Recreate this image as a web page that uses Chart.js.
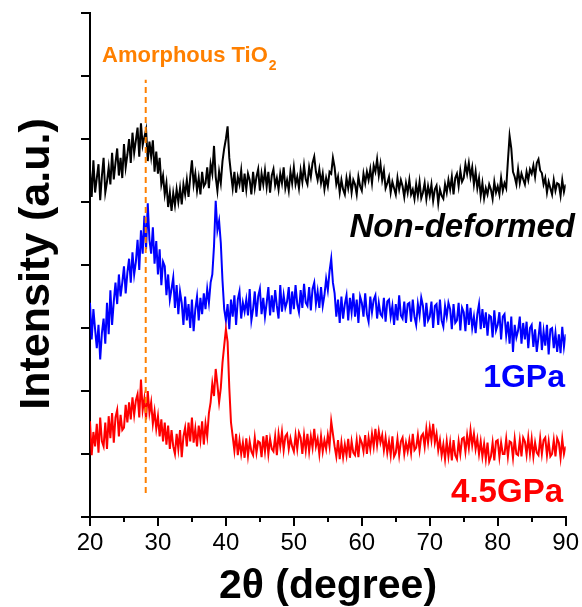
<!DOCTYPE html>
<html>
<head>
<meta charset="utf-8">
<script src="https://cdn.jsdelivr.net/npm/chart.js@4"></script>
<style>
  html, body { margin: 0; padding: 0; background: #fff; }
  #chart { display: block; }
</style>
</head>
<body>
<canvas id="chart" width="582" height="607"></canvas>
<script>
// scan grid: 20..90 deg, 0.25 deg per point
const startAngle = 20;
const stepAngle = 0.25;
const xTicks = [20, 30, 40, 50, 60, 70, 80, 90];
const xMinorTicks = [25, 35, 45, 55, 65, 75, 85];

// intensity (a.u., offset per pattern)
const nonDeformed = [
  552, 508, 566, 515,
  538, 560, 503, 541,
  570, 515, 532, 555,
  528, 578, 536, 562,
  585, 542, 570, 538,
  592, 555, 575, 600,
  562, 610, 578, 598,
  618, 572, 625, 590,
  603, 615, 565, 596,
  572, 598, 548, 580,
  545, 570, 528, 542,
  512, 530, 492, 515,
  486, 514, 495, 520,
  500, 522, 496, 528,
  512, 535, 508, 540,
  566, 528, 545, 518,
  538, 512, 548, 525,
  530, 555, 522, 560,
  545, 589, 540, 518,
  548, 530, 565, 585,
  600, 620, 570, 545,
  522, 548, 515, 540,
  528, 550, 516, 545,
  520, 545, 535, 512,
  548, 522, 540, 552,
  518, 545, 528, 550,
  524, 548, 515, 542,
  552, 526, 538, 520,
  545, 530, 555, 522,
  535, 518, 548, 530,
  555, 528, 540, 522,
  550, 532, 558, 536,
  528, 555, 540, 562,
  572, 548, 535, 552,
  530, 545, 520, 538,
  525, 548, 545, 570,
  555, 528, 540, 515,
  535, 520, 512, 538,
  522, 540, 515, 535,
  528, 512, 540, 525,
  518, 545, 530, 548,
  535, 552, 530, 558,
  548, 568, 542, 560,
  535, 550, 522, 530,
  540, 515, 532, 522,
  512, 538, 520, 535,
  525, 508, 530, 515,
  535, 512, 520, 505,
  528, 510, 532, 506,
  515, 530, 505, 525,
  510, 528, 502, 520,
  526, 498, 520, 510,
  505, 528, 515, 535,
  520, 540, 512, 538,
  545, 525, 550, 532,
  538, 560, 545, 562,
  540, 555, 528, 548,
  522, 538, 510, 530,
  506, 522, 512, 528,
  520, 505, 532, 515,
  525, 512, 538, 518,
  530, 522, 565, 605,
  585, 548, 540, 528,
  552, 530, 545, 536,
  528, 548, 535, 552,
  545, 558, 540, 562,
  568, 550, 546, 528,
  538, 515, 532, 522,
  512, 535, 518, 530,
  528, 510, 535, 516,
  528
];

const gpa1 = [
  340, 282, 330, 298,
  268, 305, 250, 292,
  315, 275, 340, 290,
  360, 305, 342, 372,
  338, 385, 350, 372,
  398, 355, 388, 410,
  372, 420, 385, 405,
  440, 392, 455, 418,
  478, 425, 498, 440,
  418, 460, 402, 438,
  385, 425, 368, 405,
  398, 352, 385, 345,
  362, 380, 332, 368,
  322, 358, 340, 305,
  350, 312, 338, 300,
  345, 295, 330, 350,
  312, 348, 322, 355,
  330, 362, 340, 372,
  385, 430, 502, 455,
  470, 435, 375, 330,
  312, 338, 298, 345,
  318, 352, 305, 345,
  358, 315, 340, 326,
  345, 320, 362, 312,
  330, 358, 318, 350,
  362, 322, 348, 318,
  340, 365, 320, 352,
  325, 360, 335, 315,
  368, 326, 352, 332,
  342, 365, 322, 358,
  330, 368, 338, 325,
  360, 332, 370, 340,
  335, 365, 328, 362,
  372, 338, 358, 332,
  365, 335, 352, 378,
  360, 390, 410, 372,
  355, 318, 345, 308,
  350, 315, 338, 352,
  312, 348, 325, 355,
  318, 345, 308, 350,
  340, 318, 355, 322,
  310, 350, 325, 345,
  352, 315, 340, 322,
  318, 348, 310, 342,
  345, 318, 335, 305,
  338, 312, 352, 320,
  315, 342, 308, 338,
  340, 310, 345, 318,
  305, 338, 320, 348,
  335, 302, 340, 312,
  318, 342, 300, 335,
  338, 305, 345, 312,
  302, 335, 318, 340,
  330, 298, 338, 308,
  312, 340, 296, 332,
  325, 295, 338, 305,
  332, 300, 318, 292,
  322, 338, 298, 330,
  300, 325, 288, 320,
  318, 285, 328, 296,
  305, 325, 282, 318,
  322, 288, 310, 275,
  318, 262, 305, 285,
  296, 318, 275, 308,
  282, 310, 268, 300,
  305, 270, 298, 262,
  285, 310, 265, 295,
  272, 305, 258, 298,
  300, 268, 292, 262,
  290, 260, 302, 270,
  290
];

const gpa45 = [
  152, 98, 135, 112,
  148, 102, 158, 120,
  112, 150, 108, 160,
  125, 165, 118, 158,
  170, 128, 162, 138,
  142, 178, 150, 182,
  155, 190, 162, 185,
  195, 158, 218, 170,
  188, 155, 200, 165,
  182, 148, 168, 140,
  160, 128, 155, 120,
  150, 115, 145, 108,
  138, 112, 100, 132,
  108, 138, 95, 128,
  142, 112, 150, 120,
  158, 118, 140, 112,
  145, 122, 152, 115,
  148, 128, 165, 182,
  212, 192, 235, 210,
  182, 205, 245, 272,
  298, 278, 205, 150,
  128, 105, 132, 98,
  122, 100, 118, 94,
  125, 97, 120, 104,
  98, 126, 102, 120,
  118, 95, 128, 104,
  130, 100, 124, 108,
  104, 128, 98, 132,
  112, 135, 106, 128,
  132, 108, 125, 112,
  104, 130, 108, 134,
  126, 100, 130, 106,
  132, 104, 128, 110,
  140, 112, 124, 100,
  128, 104, 122, 108,
  130, 112, 152, 132,
  112, 96, 122, 92,
  118, 95, 115, 98,
  124, 94, 120, 102,
  98, 122, 95, 125,
  118, 104, 130, 100,
  126, 108, 132, 112,
  140, 114, 136, 118,
  130, 106, 126, 102,
  120, 98, 128, 96,
  102, 124, 98, 120,
  126, 100, 118, 104,
  122, 102, 132, 106,
  110, 130, 106, 128,
  132, 112, 140, 118,
  142, 122, 148, 118,
  132, 106, 122, 98,
  115, 92, 120, 96,
  118, 90, 122, 98,
  92, 120, 100, 124,
  126, 104, 130, 110,
  138, 114, 132, 108,
  124, 100, 120, 96,
  116, 92, 118, 88,
  96, 118, 90, 120,
  122, 95, 118, 100,
  100, 124, 96, 120,
  118, 94, 124, 100,
  98, 122, 96, 126,
  120, 99, 126, 100,
  124, 96, 118, 102,
  98, 125, 100, 122,
  126, 98, 120, 96,
  100, 122, 96, 125,
  118, 94, 124, 100,
  112
];

// amorphous TiO2 marker line
const amorphousX = [28.2, 28.2];
const amorphousY = [38, 694];

function toPoints(values) {
  return values.map((v, i) => ({ x: startAngle + i * stepAngle, y: v }));
}

const FONT = '"Liberation Sans", Arial, sans-serif';

const textPlugin = {
  id: 'textPlugin',
  afterDraw(chart) {
    const c = chart.ctx;
    const xs = chart.scales.x;
    const bottom = chart.chartArea.bottom;

    // minor x ticks
    c.save();
    c.strokeStyle = '#000';
    c.lineWidth = 2;
    xMinorTicks.forEach(v => {
      const px = Math.round(xs.getPixelForValue(v));
      c.beginPath();
      c.moveTo(px, bottom);
      c.lineTo(px, bottom + 5);
      c.stroke();
    });
    c.restore();

    c.save();
    c.fillStyle = '#000';
    // y title
    c.save();
    c.translate(49, 264);
    c.rotate(-Math.PI / 2);
    c.font = 'bold 43px ' + FONT;
    c.textAlign = 'center';
    c.textBaseline = 'alphabetic';
    c.fillText('Intensity (a.u.)', 0, 0);
    c.restore();

    // x title
    c.font = 'bold 41px ' + FONT;
    c.textAlign = 'center';
    c.textBaseline = 'alphabetic';
    c.fillText('2θ (degree)', 328, 598);

    // series labels
    c.textAlign = 'right';
    c.font = 'italic bold 33px ' + FONT;
    c.fillText('Non-deformed', 575, 237);
    c.fillStyle = '#0000ff';
    c.font = 'bold 32px ' + FONT;
    c.fillText('1GPa', 565, 387);
    c.fillStyle = '#ff0000';
    c.font = 'bold 33px ' + FONT;
    c.fillText('4.5GPa', 563, 502);

    // marker label
    c.fillStyle = '#ff8000';
    c.textAlign = 'left';
    c.font = 'bold 22px ' + FONT;
    const t = 'Amorphous TiO';
    c.fillText(t, 102, 62);
    const w = c.measureText(t).width;
    c.font = 'bold 14px ' + FONT;
    c.fillText('2', 102 + w + 1, 70);
    c.restore();
  }
};

document.addEventListener('DOMContentLoaded', function(){

    const ctx = document.getElementById('chart');

    new Chart(ctx, {
        type: 'line',
        data: {
            datasets: [
                {
                    label: 'Amorphous TiO2',
                    data: amorphousX.map((x, i) => ({ x: x, y: amorphousY[i] })),
                    borderColor: '#ff8000',
                    borderWidth: 2,
                    borderDash: [6, 4],
                    pointRadius: 0
                },
                {
                    label: '4.5GPa',
                    data: toPoints(gpa45),
                    borderColor: '#ff0000',
                    borderWidth: 2,
                    pointRadius: 0
                },
                {
                    label: '1GPa',
                    data: toPoints(gpa1),
                    borderColor: '#0000ff',
                    borderWidth: 2,
                    pointRadius: 0
                },
                {
                    label: 'Non-deformed',
                    data: toPoints(nonDeformed),
                    borderColor: '#000000',
                    borderWidth: 2,
                    pointRadius: 0
                }
            ]
        },
        options: {
            responsive: false,
            animation: false,
            layout: { padding: { top: 13, right: 16, left: 0, bottom: 0 } },
            plugins: {
                legend: { display: false },
                tooltip: { enabled: false }
            },
            scales: {
                x: {
                    type: 'linear',
                    min: 20,
                    max: 90,
                    afterFit: s => { s.height = 90; },
                    afterBuildTicks: s => { s.ticks = xTicks.map(v => ({ value: v })); },
                    border: { color: '#000', width: 2 },
                    grid: { drawOnChartArea: false, drawTicks: true, tickLength: 9, color: '#000', lineWidth: 2 },
                    ticks: {
                        color: '#000',
                        padding: 3,
                        maxRotation: 0,
                        font: { family: FONT, size: 24 }
                    }
                },
                y: {
                    min: 0,
                    max: 800,
                    afterFit: s => { s.width = 90; },
                    border: { color: '#000', width: 2 },
                    grid: { drawOnChartArea: false, drawTicks: true, tickLength: 9, color: '#000', lineWidth: 2 },
                    ticks: { stepSize: 100, display: false }
                }
            }
        },
        plugins: [textPlugin]
    });

});
</script>
</body>
</html>
